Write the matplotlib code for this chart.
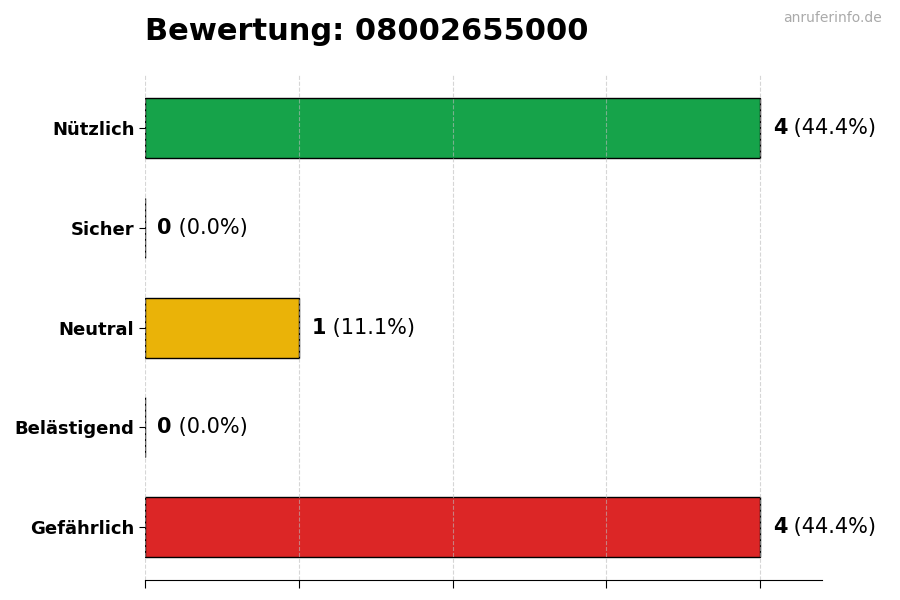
import matplotlib.pyplot as plt

# data (top to bottom)
categories = ["Nützlich", "Sicher", "Neutral", "Belästigend", "Gefährlich"]
counts = [4, 0, 1, 0, 4]
colors = ["#16a34a", "#22c55e", "#eab308", "#f97316", "#dc2626"]
title = "Bewertung: 08002655000"

total = sum(counts)

fig, ax = plt.subplots(figsize=(9, 6), dpi=100)
fig.subplots_adjust(left=0.161, right=0.913, top=0.875, bottom=0.033)

ypos = list(range(len(categories)))[::-1]
ax.barh(ypos, counts, height=0.6, color=colors, edgecolor="black", linewidth=1)

ax.set_yticks(ypos)
ax.set_yticklabels(categories, fontsize=13, fontweight="bold")
ax.set_xlim(0, 4.4)
ax.set_xticks(range(0, 5))
ax.set_xticklabels([])
ax.tick_params(axis="x", length=6)
ax.tick_params(axis="y", length=4)

ax.grid(axis="x", linestyle="--", color="#bbbbbb", alpha=0.6)
ax.grid(axis="y", visible=False)
for s in ["top", "right", "left"]:
    ax.spines[s].set_visible(False)

# value labels: bold count + percentage
for y, c in zip(ypos, counts):
    pct = c / total * 100 if total else 0
    t = ax.annotate(str(c), xy=(c, y), xytext=(9, 0), textcoords="offset points",
                    va="center", ha="left", fontsize=15, fontweight="bold")
    ax.annotate(f" ({pct:.1f}%)", xy=(1, 0.5), xycoords=t,
                va="center", ha="left", fontsize=15)

ax.set_title(title, loc="left", fontsize=22, fontweight="bold", pad=25)
fig.text(0.98, 0.97, "anruferinfo.de", ha="right", va="center", fontsize=10, color="#aaaaaa")

plt.savefig("out.png", dpi=100)
